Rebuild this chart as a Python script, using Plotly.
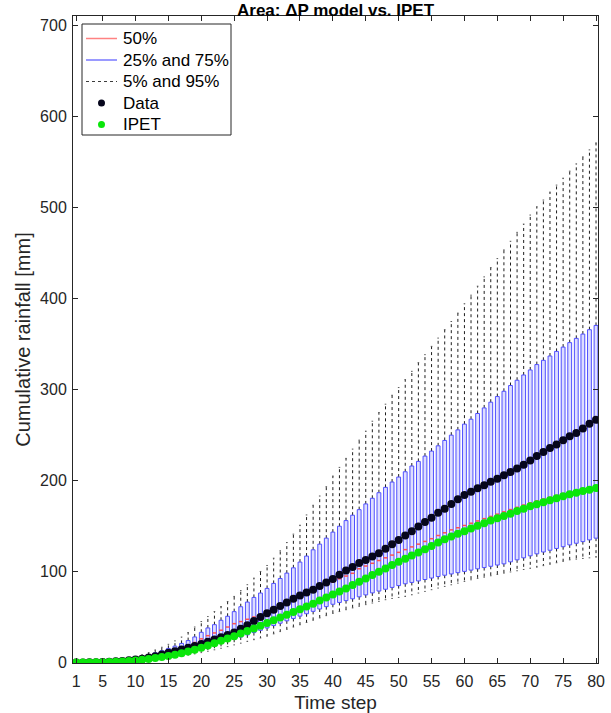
import plotly.graph_objects as go

# Time steps 1..80
steps = list(range(1, 81))

# Simulated cumulative-rainfall percentiles per time step [mm]
p5 = [0.0, 0.0, 0.1, 0.1, 0.2, 0.3, 0.5, 0.7, 1.0, 1.4,
      1.9, 2.5, 3.2, 4.0, 4.9, 5.9, 7.0, 8.2, 9.5, 10.9,
      12.4, 14.0, 15.7, 17.5, 19.4, 21.3, 23.2, 25.1, 27.0, 29.0,
      31.5, 34.0, 36.5, 39.0, 41.5, 44.0, 46.5, 49.0, 51.5, 54.0,
      56.0, 58.0, 60.0, 61.8, 63.6, 65.4, 67.2, 69.0, 70.4, 71.5,
      72.6, 74.4, 76.3, 78.1, 80.0, 81.8, 83.6, 85.4, 87.2, 89.1,
      90.9, 92.4, 93.8, 95.3, 96.7, 98.2, 99.5, 100.8, 102.2, 103.5,
      104.8, 106.4, 108.0, 109.6, 111.2, 112.8, 113.6, 114.3, 115.0, 115.8]

p25 = [0.0, 0.1, 0.2, 0.3, 0.5, 0.7, 1.0, 1.4, 1.9, 2.5,
       3.2, 4.0, 5.0, 6.1, 7.3, 8.6, 10.0, 11.6, 13.3, 15.1,
       17.0, 19.0, 21.1, 23.3, 25.6, 28.0, 30.4, 32.9, 35.4, 38.0,
       40.6, 43.2, 45.8, 48.4, 51.0, 53.6, 56.2, 58.8, 61.4, 64.0,
       66.0, 68.0, 70.0, 72.2, 74.3, 76.5, 78.5, 80.5, 82.5, 84.5,
       86.5, 88.0, 89.6, 91.2, 92.8, 94.5, 95.9, 97.3, 98.7, 100.1,
       101.5, 102.9, 104.3, 105.7, 107.1, 108.4, 110.6, 112.8, 115.0, 117.2,
       119.4, 121.4, 123.3, 125.3, 127.2, 129.2, 131.0, 132.8, 134.7, 136.6]

p50 = [0.1, 0.2, 0.4, 0.6, 0.9, 1.3, 1.8, 2.4, 3.1, 4.0,
       5.0, 6.2, 7.6, 9.2, 11.0, 13.2, 15.6, 18.5, 22.0, 26.0,
       29.5, 32.5, 35.5, 39.0, 42.7, 45.0, 47.5, 50.0, 52.5, 55.0,
       58.0, 61.0, 64.0, 67.5, 71.0, 74.5, 78.0, 81.5, 85.0, 88.5,
       92.0, 95.0, 98.0, 103.0, 106.0, 109.0, 112.0, 115.0, 118.0, 121.0,
       124.0, 127.0, 130.0, 133.0, 136.0, 139.5, 142.5, 145.7, 148.0, 150.5,
       153.0, 155.5, 158.0, 160.5, 163.0, 165.5, 168.0, 170.5, 173.0, 175.5,
       177.5, 179.5, 181.5, 183.5, 185.5, 187.5, 189.0, 190.5, 192.0, 193.5]

p75 = [0.2, 0.4, 0.6, 0.9, 1.3, 1.8, 2.5, 3.3, 4.3, 5.5,
       7.0, 8.7, 10.7, 13.0, 15.5, 18.0, 21.0, 24.1, 28.1, 33.2,
       38.0, 41.6, 46.4, 50.8, 55.9, 61.3, 66.4, 71.5, 76.3, 81.4,
       86.9, 92.3, 98.2, 104.0, 110.3, 116.9, 123.8, 130.0, 136.6, 143.2,
       149.7, 155.9, 161.8, 167.9, 174.2, 180.4, 186.5, 192.4, 198.2, 203.7,
       209.5, 215.8, 220.9, 226.7, 232.2, 238.0, 243.9, 249.7, 255.5, 261.8,
       267.2, 273.5, 279.6, 285.9, 292.1, 297.9, 304.2, 310.0, 315.8, 321.3,
       327.2, 331.9, 336.6, 341.7, 346.4, 351.3, 356.0, 360.7, 365.5, 370.2]

p95 = [0.2, 0.4, 0.7, 1.0, 1.5, 2.1, 2.9, 3.8, 4.9, 6.5,
       8.5, 11.0, 13.8, 16.8, 20.0, 23.8, 28.0, 33.0, 39.0, 45.0,
       50.5, 56.0, 61.5, 67.0, 72.6, 79.0, 85.5, 92.7, 100.0, 106.6,
       114.6, 122.7, 131.8, 141.0, 150.8, 162.1, 172.7, 182.9, 193.1, 204.8,
       214.3, 224.2, 234.4, 244.2, 254.1, 265.0, 274.6, 283.7, 293.5, 302.0,
       310.7, 319.8, 329.3, 338.1, 347.2, 356.3, 365.5, 374.5, 383.7, 394.0,
       403.4, 413.3, 423.5, 433.7, 443.6, 453.1, 462.6, 472.4, 481.5, 491.4,
       500.5, 507.9, 516.6, 524.3, 531.9, 539.6, 547.6, 555.3, 563.0, 570.6]

# Observed cumulative rainfall
data_obs = [0.0, 0.1, 0.2, 0.4, 0.6, 0.9, 1.3, 1.8, 2.5, 3.3,
            4.3, 5.5, 7.0, 8.8, 10.8, 12.5, 14.3, 16.2, 18.3, 20.5,
            22.8, 25.2, 27.7, 30.3, 33.0, 37.0, 41.0, 45.5, 50.0, 54.0,
            58.0, 62.0, 66.0, 70.1, 73.5, 77.0, 80.0, 84.0, 88.0, 91.7,
            96.4, 101.1, 104.8, 109.2, 112.5, 116.4, 120.1, 124.9, 130.0, 134.7,
            139.4, 144.2, 149.3, 154.4, 159.1, 164.6, 169.0, 174.2, 179.3, 184.0,
            187.6, 191.3, 194.6, 198.6, 201.9, 205.6, 209.2, 213.2, 217.2, 222.0,
            226.7, 231.1, 235.5, 239.5, 244.2, 248.6, 252.2, 257.1, 262.1, 266.5]

# IPET cumulative rainfall
ipet = [0.0, 0.0, 0.1, 0.2, 0.3, 0.5, 0.8, 1.2, 1.7, 2.3,
        3.0, 3.9, 4.9, 6.0, 7.2, 8.6, 10.2, 12.0, 14.0, 16.2,
        18.6, 21.2, 23.8, 26.4, 29.0, 31.8, 34.6, 37.5, 40.5, 43.5,
        46.5, 49.5, 52.5, 55.5, 58.5, 61.5, 64.7, 68.0, 71.5, 74.8,
        78.1, 81.4, 85.1, 88.7, 92.3, 96.1, 99.7, 103.3, 107.0, 110.6,
        114.0, 117.5, 120.8, 124.5, 128.1, 131.8, 135.5, 138.3, 141.3, 144.2,
        147.1, 150.1, 153.0, 155.9, 158.5, 161.0, 163.5, 166.5, 169.0, 171.6,
        173.8, 176.0, 178.2, 180.4, 182.6, 184.8, 186.5, 188.4, 189.8, 191.7]

x_ticks = [1, 5, 10, 15, 20, 25, 30, 35, 40, 45, 50, 55, 60, 65, 70, 75, 80]
y_ticks = [0, 100, 200, 300, 400, 500, 600, 700]

legend_labels = ["50%", "25% and 75%", "5% and 95%", "Data", "IPET"]

W, H = 611, 713
ML, MR, MT, MB = 73, 13, 16, 50
PW, PH = W - ML - MR, H - MT - MB

BOX_HALF = 0.29
CAP_HALF = 0.12
BLUE = "rgb(80,80,255)"
RED = "rgb(255,80,80)"
DARK = "rgb(30,30,30)"
DATA_C = "#06061c"
IPET_C = "rgb(10,230,10)"
AXC = "#262626"
FONT = "Arial, Liberation Sans, sans-serif"

# Build path coordinates (None-separated) for boxes, whiskers, caps, medians
bx, by, wx, wy, cx, cy, mx, my = [], [], [], [], [], [], [], []
for s, a, b, m, c, d in zip(steps, p5, p25, p50, p75, p95):
    bx += [s - BOX_HALF, s - BOX_HALF, s + BOX_HALF, s + BOX_HALF, s - BOX_HALF, None]
    by += [b, c, c, b, b, None]
    wx += [s, s, None, s, s, None]
    wy += [c, d, None, b, a, None]
    cx += [s - CAP_HALF, s + CAP_HALF, None, s - CAP_HALF, s + CAP_HALF, None]
    cy += [d, d, None, a, a, None]
    mx += [s - BOX_HALF, s + BOX_HALF, None]
    my += [m, m, None]

fig = go.Figure()

fig.add_trace(go.Scatter(x=wx, y=wy, mode="lines", hoverinfo="skip",
                         line=dict(color=DARK, width=1, dash="dot")))
fig.add_trace(go.Scatter(x=cx, y=cy, mode="lines", hoverinfo="skip",
                         line=dict(color="rgb(90,90,90)", width=1)))
fig.add_trace(go.Scatter(x=bx, y=by, mode="lines", hoverinfo="skip",
                         fill="toself", fillcolor="rgba(195,195,255,0.55)",
                         line=dict(color=BLUE, width=1)))
fig.add_trace(go.Scatter(x=mx, y=my, mode="lines", hoverinfo="skip",
                         line=dict(color=RED, width=1.5)))
fig.add_trace(go.Scatter(x=steps, y=data_obs, mode="markers", name="Data",
                         marker=dict(color=DATA_C, size=8)))
fig.add_trace(go.Scatter(x=steps, y=ipet, mode="markers", name="IPET",
                         marker=dict(color=IPET_C, size=8)))


def px_x(px):
    return (px - ML) / PW


def px_y(py):
    return (MT + PH - py) / PH


# Legend panel drawn in the upper-left corner of the axes
shapes = [dict(type="rect", xref="paper", yref="paper", layer="above",
               x0=px_x(82), x1=px_x(231), y0=px_y(135), y1=px_y(24),
               fillcolor="white", line=dict(color=AXC, width=1))]
annotations = []
row_y = [38.5, 60, 81.5, 103, 124.5]
line_styles = [dict(color="rgb(255,130,130)", width=1.5),
               dict(color="rgb(120,120,255)", width=1.5),
               dict(color="rgb(60,60,60)", width=1, dash="dot")]
for i, label in enumerate(legend_labels):
    yy = px_y(row_y[i])
    if i < 3:
        shapes.append(dict(type="line", xref="paper", yref="paper", layer="above",
                           x0=px_x(86), x1=px_x(117), y0=yy, y1=yy, line=line_styles[i]))
    else:
        col = DATA_C if label == "Data" else IPET_C
        shapes.append(dict(type="circle", xref="paper", yref="paper", layer="above",
                           xsizemode="pixel", ysizemode="pixel",
                           xanchor=px_x(101.5), yanchor=yy,
                           x0=-3.5, x1=3.5, y0=-3.5, y1=3.5,
                           fillcolor=col, line=dict(color=col, width=0)))
    annotations.append(dict(text=label, xref="paper", yref="paper",
                            x=px_x(121), y=yy, xanchor="left", yanchor="middle",
                            showarrow=False, font=dict(size=17, color="black", family=FONT)))

annotations.append(dict(text="<b>Area: \u0394P model vs. IPET</b>", xref="paper", yref="paper",
                        x=0.5, y=1.0, yshift=-6, xanchor="center", yanchor="bottom",
                        showarrow=False, font=dict(size=17, color="black", family=FONT)))

axis_common = dict(
    showline=True, linecolor=AXC, linewidth=1, mirror="ticks",
    ticks="inside", ticklen=5, tickcolor=AXC, showgrid=False, zeroline=False,
    automargin=False,
    tickfont=dict(family=FONT, size=16, color=AXC),
)

fig.update_layout(
    width=W, height=H,
    margin=dict(l=ML, r=MR, t=MT, b=MB),
    paper_bgcolor="white", plot_bgcolor="white",
    font=dict(family=FONT, color=AXC),
    showlegend=False,
    xaxis=dict(range=[0.5, 80.3], tickvals=x_ticks, ticklabelstandoff=4,
               title=dict(text="Time step", font=dict(size=19), standoff=8),
               **axis_common),
    yaxis=dict(range=[-0.5, 710], tickvals=y_ticks, ticklabelstandoff=2,
               title=dict(text="Cumulative rainfall [mm]", font=dict(size=20), standoff=4),
               **axis_common),
    shapes=shapes,
    annotations=annotations,
)

fig.write_html("out.html")
